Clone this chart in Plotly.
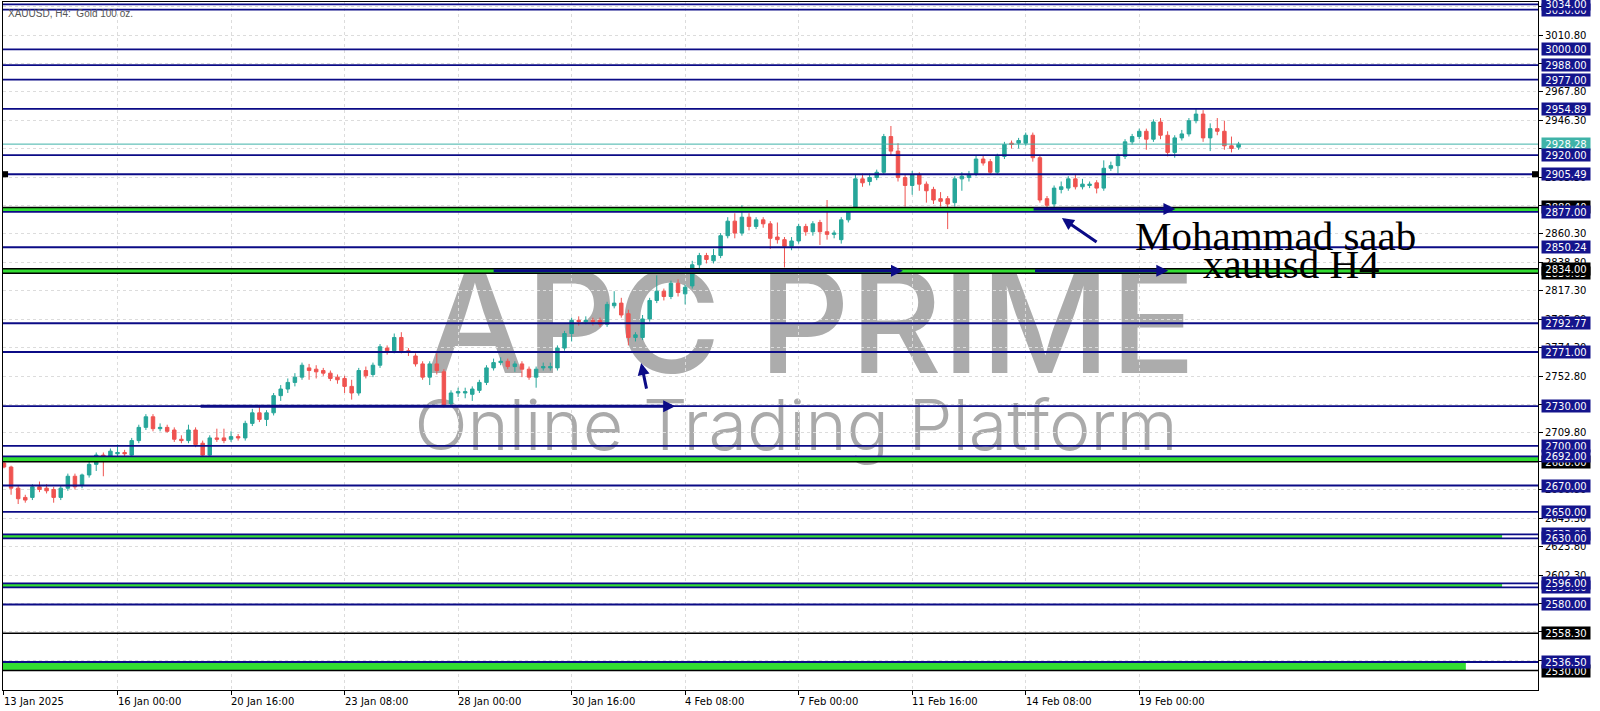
import plotly.graph_objects as go

# ---------------- data (H4 candles, bar index 0..174) ----------------
opens = [2687, 2684, 2668, 2661, 2661, 2669, 2668, 2667, 2661, 2668,
         2677, 2670, 2678, 2686, 2693, 2692, 2694, 2695, 2693, 2704,
         2714, 2722, 2713, 2714, 2712, 2705, 2704, 2712, 2702, 2693,
         2706, 2706, 2705, 2707, 2706, 2717, 2725, 2720, 2725, 2738,
         2743, 2748, 2752, 2759, 2758, 2757, 2755, 2752, 2751, 2745,
         2740, 2757, 2754, 2761, 2774, 2772, 2782, 2772, 2768, 2762,
         2752, 2762, 2756, 2732, 2740, 2740, 2739, 2742, 2748, 2759,
         2763, 2764, 2760, 2762, 2758, 2752, 2759, 2759, 2759, 2774,
         2785, 2795, 2794, 2795, 2795, 2792, 2806, 2808, 2800, 2782,
         2782, 2796, 2810, 2817, 2813, 2823, 2815, 2821, 2837, 2844,
         2840, 2844, 2859, 2870, 2861, 2873, 2866, 2871, 2868, 2858,
         2856, 2851, 2855, 2866, 2862, 2869, 2862, 2860, 2856, 2871,
         2880, 2902, 2900, 2903, 2907, 2934, 2923, 2903, 2897, 2905,
         2898, 2894, 2887, 2887, 2884, 2902, 2903, 2906, 2917, 2915,
         2907, 2919, 2929, 2929, 2929, 2935, 2918, 2887, 2883, 2894,
         2895, 2902, 2896, 2897, 2899, 2895, 2910, 2912, 2919, 2930,
         2934, 2938, 2932, 2945, 2935, 2922, 2933, 2936, 2946, 2951,
         2933, 2940, 2938, 2927, 2926]
highs = [2689, 2685, 2670, 2663, 2671, 2673, 2671, 2669, 2670, 2679,
         2679, 2679, 2688, 2695, 2695, 2698, 2701, 2697, 2706, 2716,
         2724, 2724, 2717, 2716, 2714, 2708, 2716, 2714, 2704, 2708,
         2713, 2713, 2711, 2709, 2719, 2728, 2731, 2727, 2740, 2746,
         2751, 2755, 2763, 2762, 2761, 2759, 2757, 2754, 2753, 2750,
         2759, 2760, 2763, 2777, 2776, 2785, 2786, 2774, 2770, 2764,
         2764, 2770, 2758, 2742, 2744, 2744, 2745, 2750, 2761, 2766,
         2767, 2766, 2764, 2764, 2760, 2760, 2763, 2763, 2776, 2787,
         2797, 2798, 2798, 2797, 2797, 2809, 2817, 2812, 2803, 2786,
         2799, 2812, 2829, 2819, 2825, 2826, 2822, 2840, 2846, 2846,
         2849, 2861, 2873, 2876, 2882, 2876, 2873, 2873, 2870, 2869,
         2858, 2858, 2868, 2868, 2870, 2871, 2886, 2863, 2873, 2880,
         2905, 2906, 2906, 2909, 2936, 2942, 2929, 2905, 2908, 2907,
         2900, 2896, 2892, 2889, 2904, 2907, 2908, 2920, 2920, 2917,
         2921, 2930, 2931, 2933, 2937, 2937, 2920, 2889, 2897, 2900,
         2904, 2905, 2902, 2900, 2901, 2916, 2915, 2921, 2932, 2936,
         2940, 2940, 2947, 2948, 2938, 2935, 2939, 2948, 2955, 2954,
         2944, 2948, 2946, 2934, 2930]
lows = [2683, 2663, 2656, 2657, 2659, 2665, 2664, 2657, 2659, 2666,
        2667, 2668, 2676, 2681, 2677, 2690, 2692, 2692, 2690, 2702,
        2712, 2711, 2711, 2710, 2703, 2702, 2702, 2699, 2689, 2691,
        2703, 2702, 2703, 2704, 2704, 2715, 2718, 2715, 2723, 2734,
        2740, 2745, 2750, 2750, 2751, 2753, 2749, 2747, 2740, 2735,
        2738, 2751, 2752, 2759, 2769, 2770, 2770, 2768, 2760, 2750,
        2746, 2754, 2729, 2730, 2737, 2736, 2734, 2740, 2746, 2757,
        2761, 2758, 2756, 2752, 2750, 2744, 2757, 2757, 2757, 2772,
        2779, 2791, 2792, 2791, 2790, 2790, 2804, 2797, 2776, 2779,
        2780, 2794, 2808, 2810, 2811, 2813, 2807, 2819, 2833, 2838,
        2838, 2842, 2857, 2857, 2859, 2863, 2864, 2865, 2849, 2853,
        2835, 2848, 2853, 2859, 2859, 2852, 2856, 2857, 2853, 2869,
        2878, 2896, 2897, 2901, 2905, 2920, 2900, 2881, 2890, 2893,
        2884, 2883, 2881, 2864, 2881, 2893, 2900, 2904, 2912, 2905,
        2905, 2917, 2925, 2925, 2927, 2915, 2884, 2878, 2880, 2891,
        2893, 2894, 2894, 2895, 2891, 2893, 2908, 2906, 2917, 2928,
        2932, 2924, 2930, 2932, 2919, 2918, 2931, 2934, 2944, 2930,
        2923, 2935, 2924, 2922, 2924]
closes = [2684, 2668, 2660, 2659, 2669, 2667, 2666, 2661, 2668, 2677,
          2669, 2678, 2686, 2693, 2692, 2696, 2695, 2694, 2704, 2714,
          2722, 2713, 2714, 2711, 2705, 2704, 2712, 2701, 2693, 2706,
          2705, 2704, 2707, 2706, 2717, 2725, 2720, 2725, 2738, 2743,
          2748, 2752, 2761, 2757, 2756, 2755, 2751, 2750, 2745, 2740,
          2757, 2753, 2761, 2775, 2772, 2782, 2772, 2771, 2762, 2752,
          2762, 2757, 2731, 2740, 2741, 2741, 2743, 2748, 2759, 2763,
          2764, 2760, 2762, 2758, 2752, 2758, 2760, 2760, 2774, 2785,
          2795, 2794, 2795, 2794, 2792, 2807, 2808, 2799, 2782, 2784,
          2796, 2810, 2817, 2813, 2823, 2816, 2820, 2837, 2844, 2841,
          2844, 2859, 2870, 2861, 2873, 2866, 2871, 2868, 2857, 2856,
          2851, 2855, 2866, 2862, 2868, 2862, 2860, 2861, 2871, 2878,
          2902, 2899, 2903, 2907, 2934, 2923, 2903, 2897, 2905, 2898,
          2893, 2886, 2885, 2883, 2902, 2904, 2905, 2917, 2914, 2907,
          2919, 2928, 2928, 2931, 2935, 2918, 2886, 2882, 2895, 2896,
          2902, 2896, 2898, 2898, 2895, 2910, 2912, 2919, 2930, 2934,
          2938, 2932, 2945, 2935, 2922, 2933, 2936, 2946, 2951, 2933,
          2940, 2938, 2927, 2925, 2928.28]
bar_index = list(range(len(opens)))

date_tick_index = [0, 16, 32, 48, 64, 80, 96, 112, 128, 144, 160]
date_tick_text = ["13 Jan 2025", "16 Jan 00:00", "20 Jan 16:00", "23 Jan 08:00",
                  "28 Jan 00:00", "30 Jan 16:00", "4 Feb 08:00", "7 Feb 00:00",
                  "11 Feb 16:00", "14 Feb 08:00", "19 Feb 00:00"]

price_ticks = [2537.80, 2559.30, 2580.80, 2602.30, 2623.80, 2645.30, 2666.80, 2688.30,
               2709.80, 2731.30, 2752.80, 2774.30, 2795.80, 2817.30, 2838.80, 2860.30,
               2881.80, 2903.30, 2924.80, 2946.30, 2967.80, 2989.30, 3010.80, 3032.30]

navy_levels = [3034.00, 3030.00, 3000.00, 2988.00, 2977.00, 2954.89, 2920.00, 2905.49,
               2877.00, 2850.24, 2792.77, 2771.00, 2730.00, 2700.00, 2692.00, 2670.00,
               2650.00, 2633.00, 2630.00, 2596.00, 2593.00, 2580.00, 2536.50]
black_levels = [2880.40, 2834.00, 2830.65, 2688.00, 2558.30, 2530.00]
# green zones: (low, high, right end as fraction of plot width)
green_low = [2877.00, 2830.65, 2688.00, 2630.00, 2593.00, 2530.00]
green_high = [2880.40, 2834.00, 2692.00, 2633.00, 2596.00, 2536.50]
green_end = [1.0, 1.0, 1.0, 0.9766, 0.9766, 0.953]
current_price = 2928.28

# right-side price labels (text, value, kind); drawn in order
hidden_labels = [("3030.00", 3030.00, "navy"), ("2880.40", 2880.40, "black"),
                 ("2830.65", 2830.65, "black"), ("2688.00", 2688.00, "black"),
                 ("2633.00", 2633.00, "navy"), ("2593.00", 2593.00, "navy"),
                 ("2530.00", 2530.00, "black")]
visible_labels = [("3034.00", 3034.00, "navy"), ("3000.00", 3000.00, "navy"),
                  ("2988.00", 2988.00, "navy"), ("2977.00", 2977.00, "navy"),
                  ("2954.89", 2954.89, "navy"), ("2928.28", 2928.28, "teal"),
                  ("2920.00", 2920.00, "navy"), ("2905.49", 2905.49, "navy"),
                  ("2877.00", 2877.00, "navy"), ("2850.24", 2850.24, "navy"),
                  ("2834.00", 2834.00, "black"), ("2792.77", 2792.77, "navy"),
                  ("2771.00", 2771.00, "navy"), ("2730.00", 2730.00, "navy"),
                  ("2700.00", 2700.00, "navy"), ("2692.00", 2692.00, "navy"),
                  ("2670.00", 2670.00, "navy"), ("2650.00", 2650.00, "navy"),
                  ("2630.00", 2630.00, "navy"), ("2596.00", 2596.00, "navy"),
                  ("2580.00", 2580.00, "navy"), ("2558.30", 2558.30, "black"),
                  ("2536.50", 2536.50, "navy")]

# arrows: (head_x, head_y, tail_x, tail_y) in bar index / price
arrows = [(94.6, 2730.0, 27.5, 2730.0),
          (126.7, 2832.4, 68.8, 2832.4),
          (164.1, 2832.4, 145.1, 2832.4),
          (165.1, 2879.2, 144.9, 2879.2),
          (149.1, 2872.3, 154.2, 2853.4),
          (89.8, 2762.6, 90.6, 2742.2)]

NAVY = "#0b0b86"
BLACK = "#000000"
TEAL = "#3fb3a8"
GREEN = "#33dd33"
BULL = "#26a69a"
BEAR = "#ef5350"

fig = go.Figure()
fig.add_trace(go.Candlestick(
    x=bar_index, open=opens, high=highs, low=lows, close=closes,
    increasing=dict(line=dict(color=BULL, width=1), fillcolor=BULL),
    decreasing=dict(line=dict(color=BEAR, width=1), fillcolor=BEAR),
    whiskerwidth=0, hoverinfo="skip", showlegend=False))

shapes = []
# watermark (below traces)
shapes.append(dict(type="rect", xref="paper", yref="paper", x0=0.516, x1=0.536,
                   y0=0.532, y1=0.552, line=dict(width=0), fillcolor="rgba(0,0,0,0)",
                   layer="below",
                   label=dict(text="APC PRIME", textposition="middle center",
                              font=dict(family="Inter", size=142, color="#acacac", weight=500))))
shapes.append(dict(type="rect", xref="paper", yref="paper", x0=0.5066, x1=0.5266,
                   y0=0.3786, y1=0.3986, line=dict(width=0), fillcolor="rgba(0,0,0,0)",
                   layer="below",
                   label=dict(text="Online Trading Platform", textposition="middle center",
                              font=dict(family="Inter", size=70, color="#aaaaaa", weight=300))))

for lo, hi, end in zip(green_low, green_high, green_end):
    shapes.append(dict(type="rect", xref="paper", yref="y", x0=0, x1=end, y0=lo, y1=hi,
                       fillcolor=GREEN, line=dict(width=0)))
for lv in black_levels:
    shapes.append(dict(type="line", xref="paper", yref="y", x0=0, x1=1, y0=lv, y1=lv,
                       line=dict(color=BLACK, width=1.5)))
for lv in navy_levels:
    shapes.append(dict(type="line", xref="paper", yref="y", x0=0, x1=1, y0=lv, y1=lv,
                       line=dict(color=NAVY, width=1.8)))
shapes.append(dict(type="line", xref="paper", yref="y", x0=0, x1=1,
                   y0=current_price, y1=current_price, line=dict(color=TEAL, width=1)))
# anchor squares on the 2905.49 line
for x0, x1 in [(0.0, 0.0033), (0.9961, 1.0)]:
    shapes.append(dict(type="rect", xref="paper", yref="y", x0=x0, x1=x1,
                       y0=2905.49 - 2.3, y1=2905.49 + 2.3, fillcolor=BLACK, line=dict(width=0)))

annotations = []
bg = {"navy": "#14148c", "black": "#000000", "teal": TEAL}
for txt, val, kind in hidden_labels + visible_labels:
    annotations.append(dict(xref="paper", yref="y", x=1, y=val, xanchor="left", yanchor="middle",
                            xshift=3, text=txt, showarrow=False, bgcolor=bg[kind],
                            font=dict(family="DejaVu Sans", size=10, color="white"),
                            width=46, height=10, borderpad=1))

for t_i, t_txt in zip(date_tick_index, date_tick_text):
    annotations.append(dict(xref="x", yref="paper", x=t_i, y=0, xanchor="left", yanchor="top",
                            yshift=-4, xshift=-2, text=t_txt, showarrow=False,
                            font=dict(family="DejaVu Sans", size=10, color="black")))

for hx, hy, tx, ty in arrows:
    annotations.append(dict(x=hx, y=hy, ax=tx, ay=ty, xref="x", yref="y", axref="x", ayref="y",
                            text="", showarrow=True, arrowhead=2, arrowsize=0.8,
                            arrowwidth=3, arrowcolor=NAVY, standoff=0, startstandoff=0))

annotations.append(dict(xref="x", yref="y", x=179.2, y=2858.5, xanchor="center", yanchor="middle",
                        text="Mohammad saab", showarrow=False,
                        font=dict(family="Liberation Serif", size=41, color="black")))
annotations.append(dict(xref="x", yref="y", x=181.5, y=2837.5, xanchor="center", yanchor="middle",
                        text="xauusd H4", showarrow=False,
                        font=dict(family="Liberation Serif", size=41, color="black")))
annotations.append(dict(xref="paper", yref="paper", x=0, y=1, xanchor="left", yanchor="top",
                        xshift=3, yshift=-4, text="XAUUSD, H4:\u00a0 Gold 100 oz.", showarrow=False,
                        font=dict(family="Liberation Sans", size=10, color="#555555")))

fig.update_layout(
    width=1600, height=711,
    margin=dict(l=3, r=62, t=2, b=21),
    paper_bgcolor="white", plot_bgcolor="white",
    showlegend=False,
    shapes=shapes, annotations=annotations,
    font=dict(family="DejaVu Sans", size=10, color="black"),
    hovermode=False,
)
fig.update_xaxes(range=[-0.14, 216.2], rangeslider=dict(visible=False),
                 tickvals=date_tick_index, showticklabels=False,
                 ticks="outside", ticklen=4, tickcolor="black",
                 showgrid=True, gridcolor="#dcdcdc", griddash="dot", gridwidth=1,
                 showline=True, linecolor="black", linewidth=1, mirror=True, zeroline=False)
fig.update_yaxes(range=[2515.3, 3035.8], side="right",
                 tickvals=price_ticks, tickformat=".2f",
                 ticks="outside", ticklen=4, tickcolor="black",
                 tickfont=dict(family="DejaVu Sans", size=10, color="black"),
                 showgrid=True, gridcolor="#dcdcdc", griddash="dot", gridwidth=1,
                 showline=True, linecolor="black", linewidth=1, mirror=True, zeroline=False)

fig.write_html("out.html", config={"displayModeBar": False},
               post_script="document.body.style.margin='0';document.body.style.overflow='hidden';")
